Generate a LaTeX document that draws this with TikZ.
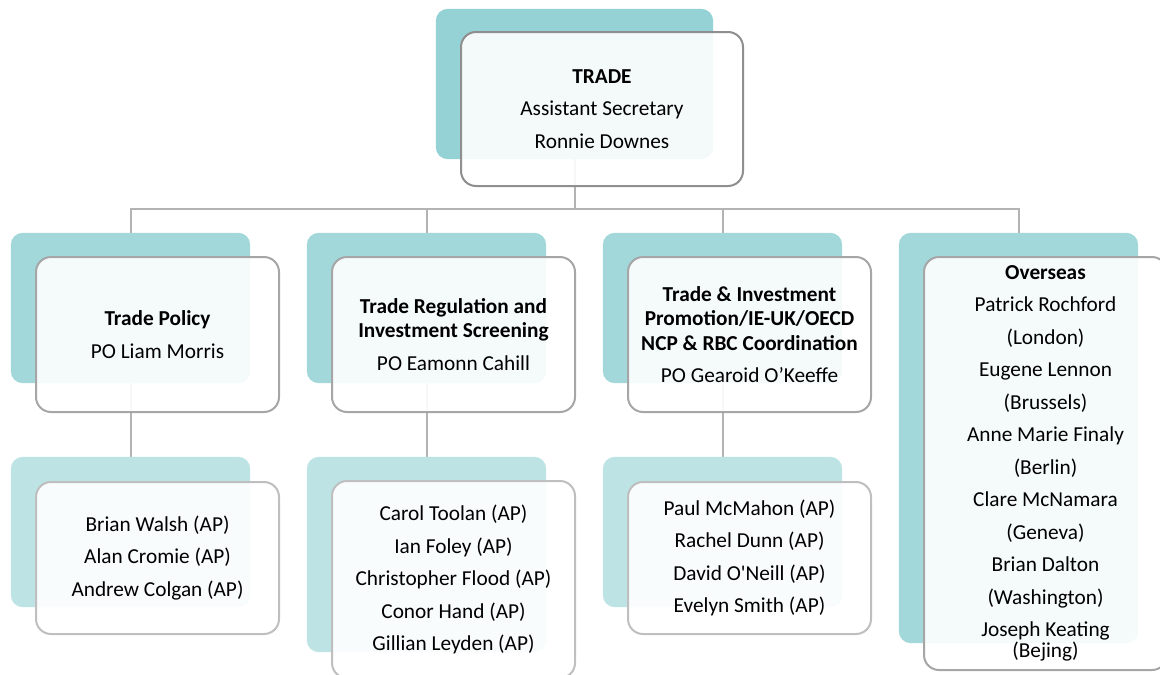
\documentclass[tikz,border=0pt]{standalone}
\usepackage{fontspec}
\setmainfont{Carlito}[Ligatures=TeXOff]
\definecolor{tealTop}{HTML}{95D2D5}
\definecolor{tealMid}{HTML}{A2D8DA}
\definecolor{tealLow}{HTML}{BDE3E4}
\definecolor{frameTop}{HTML}{8F8F8F}
\definecolor{frameMid}{HTML}{A6A6A6}
\definecolor{frameLow}{HTML}{BFBFBF}
\definecolor{connCol}{HTML}{B3B3B3}
\tikzset{
  backbox/.style={rectangle, rounded corners=12pt, draw=none, inner sep=0pt},
  frontbox/.style={rectangle, rounded corners=15pt, fill=white, fill opacity=0.9, text opacity=1,
     line width=2pt, inner sep=0pt, align=center, font=\fontsize{21.3}{32.5}\selectfont},
  conn/.style={draw=connCol, line width=2pt},
}
\begin{document}
\begin{tikzpicture}[x=1pt,y=-1pt]
\useasboundingbox (0,0) rectangle (1160,675);
\coordinate (hub) at (574.5,209);
% placement of back boxes
\node[backbox, minimum width=277pt, minimum height=150pt] (tb) at (574.5,84) {};
\node[backbox, minimum width=239pt, minimum height=150pt] (m1b) at (130.5,308) {};
\node[backbox, minimum width=239pt, minimum height=150pt] (m2b) at (426.5,308) {};
\node[backbox, minimum width=239pt, minimum height=150pt] (m3b) at (722.5,308) {};
\node[backbox, minimum width=239pt, minimum height=410pt] (m4b) at (1018.5,438) {};
\node[backbox, minimum width=239pt, minimum height=150pt] (l1b) at (130.5,532) {};
\node[backbox, minimum width=239pt, minimum height=195pt] (l2b) at (426.5,554.5) {};
\node[backbox, minimum width=239pt, minimum height=150pt] (l3b) at (722.5,532) {};
% connectors
\draw[conn] (tb.center) -- (hub);
\draw[conn] (hub) -| (m1b.center);
\draw[conn] (hub) -| (m2b.center);
\draw[conn] (hub) -| (m3b.center);
\draw[conn] (hub) -| (m4b.center);
\draw[conn] (m1b.center) -- (l1b.center);
\draw[conn] (m2b.center) -- (l2b.center);
\draw[conn] (m3b.center) -- (l3b.center);
% filled back boxes
\fill[tealTop, rounded corners=12pt] (tb.north west) rectangle (tb.south east);
\foreach \n in {m1b,m2b,m3b,m4b}{\fill[tealMid, rounded corners=12pt] (\n.north west) rectangle (\n.south east);}
\foreach \n in {l1b,l2b,l3b}{\fill[tealLow, rounded corners=12pt] (\n.north west) rectangle (\n.south east);}
% front boxes
\node[frontbox, draw=frameTop, minimum width=282pt, minimum height=154pt] (tf) at (602,109)
  {\textbf{TRADE}\\Assistant Secretary\\Ronnie Downes};
\node[frontbox, draw=frameMid, minimum width=243pt, minimum height=155pt] (m1f) at (157.5,334.5)
  {\textbf{Trade Policy}\\PO Liam Morris};
\node[frontbox, draw=frameMid, minimum width=243pt, minimum height=155pt] (m2f) at (453.5,334.5)
  {\textbf{Trade Regulation and}\\[-8pt]\textbf{Investment Screening}\\PO Eamonn Cahill};
\node[frontbox, draw=frameMid, minimum width=243pt, minimum height=155pt] (m3f) at (749.5,334.5)
  {\textbf{Trade \& Investment}\\[-8pt]\textbf{Promotion/IE-UK/OECD}\\[-8pt]\textbf{NCP \& RBC Coordination}\\PO Gearoid O’Keeffe};
\node[frontbox, draw=frameMid, minimum width=243pt, minimum height=413pt] (m4f) at (1045.5,463.5)
  {\textbf{Overseas}\\Patrick Rochford\\(London)\\Eugene Lennon\\(Brussels)\\Anne Marie Finaly\\(Berlin)\\Clare McNamara\\(Geneva)\\Brian Dalton\\(Washington)\\Joseph Keating\\[-11.5pt](Bejing)};
\node[frontbox, draw=frameLow, minimum width=243pt, minimum height=152pt] (l1f) at (157.5,558)
  {Brian Walsh (AP)\\Alan Cromie (AP)\\Andrew Colgan (AP)};
\node[frontbox, draw=frameLow, minimum width=243pt, minimum height=197pt] (l2f) at (453.5,579.5)
  {Carol Toolan (AP)\\Ian Foley (AP)\\Christopher Flood (AP)\\Conor Hand (AP)\\Gillian Leyden (AP)};
\node[frontbox, draw=frameLow, minimum width=243pt, minimum height=152pt] (l3f) at (749.5,558)
  {Paul McMahon (AP)\\Rachel Dunn (AP)\\David O'Neill (AP)\\Evelyn Smith (AP)};
\end{tikzpicture}
\end{document}
